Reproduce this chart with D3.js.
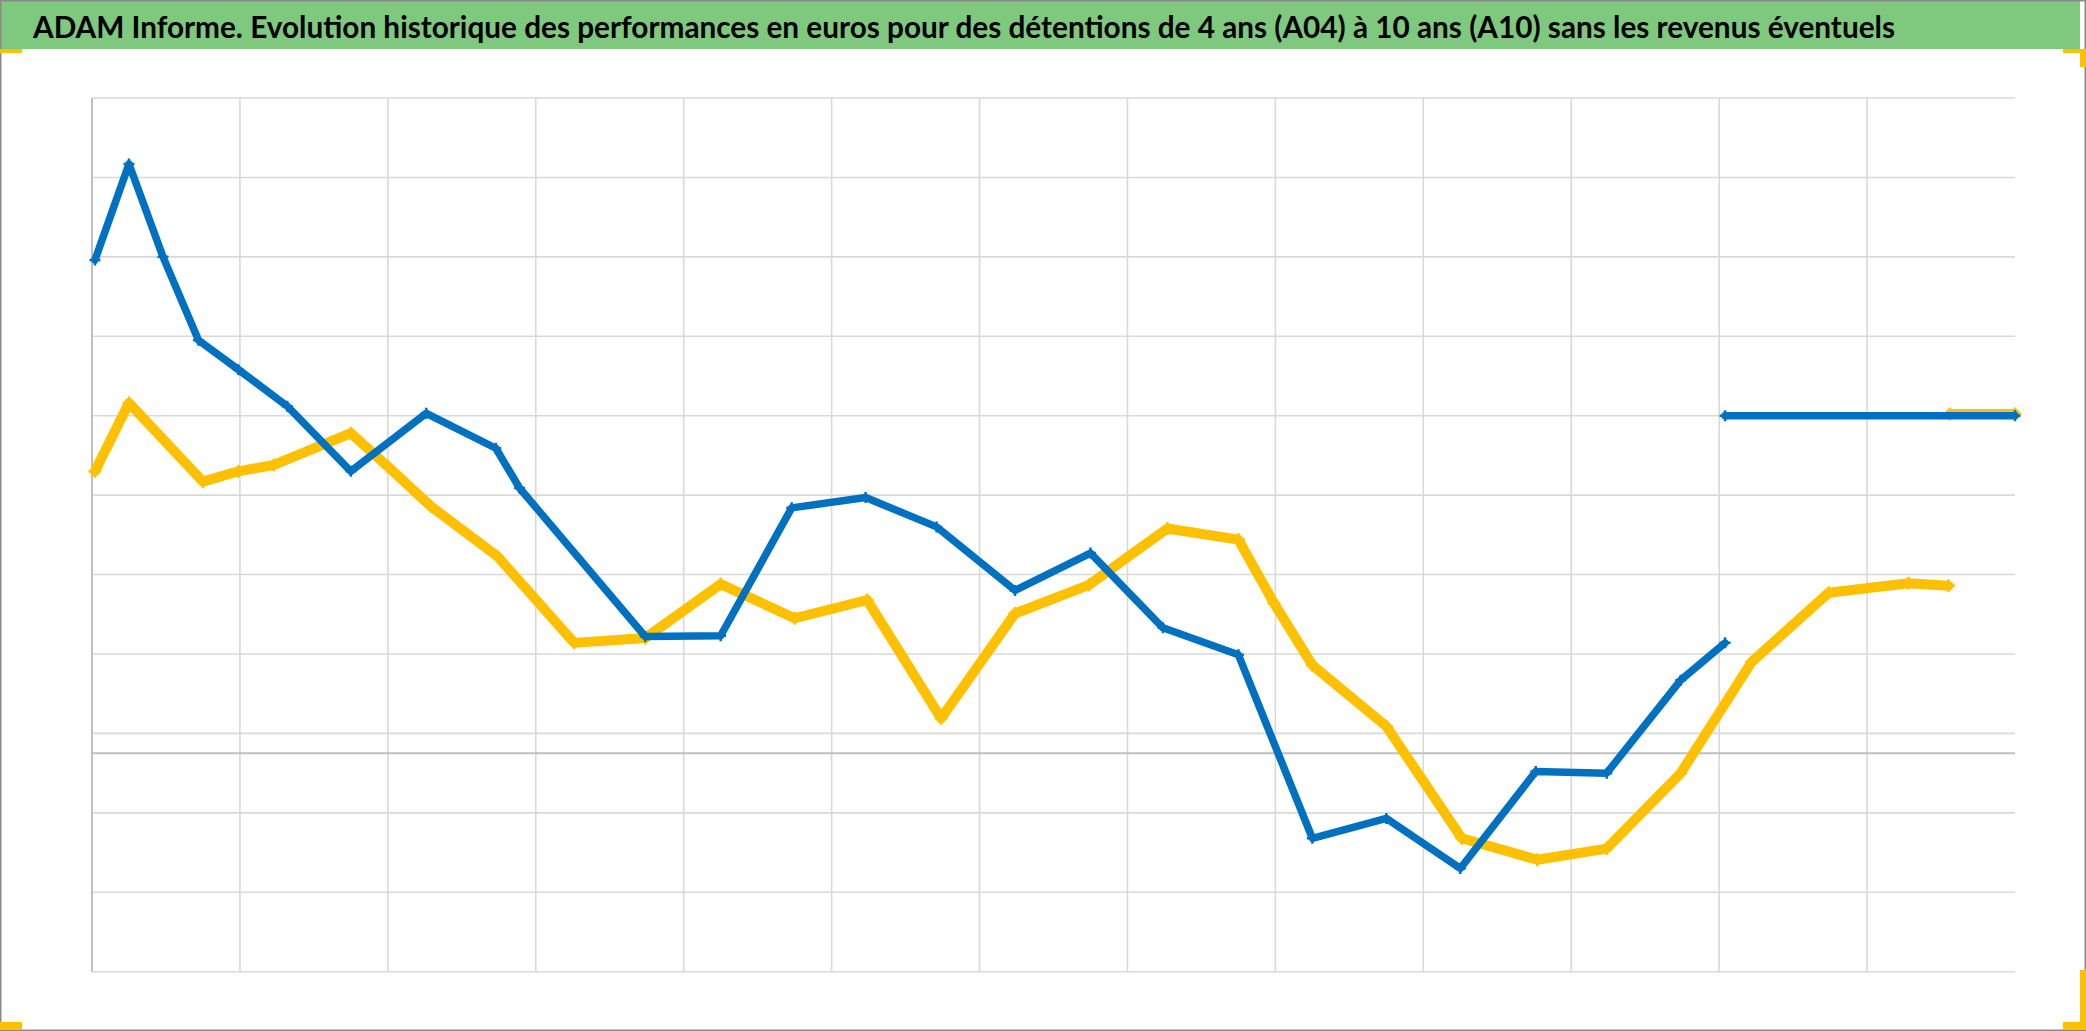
<!DOCTYPE html>
<html><head><meta charset="utf-8">
<script src="https://cdn.jsdelivr.net/npm/d3@7"></script>
<style>html,body{margin:0;padding:0;background:#fff;overflow:hidden}</style>
</head><body><svg id="c" width="2086" height="1031"></svg>
<script>
// ---- data ----
const titleText = "ADAM Informe. Evolution historique des performances en euros pour des détentions de 4 ans (A04) à 10 ans (A10) sans les revenus éventuels";
// A10 (blue)
const a10X = [0.02, 0.25, 0.48, 0.72, 0.99, 1.32, 1.75, 2.26, 2.73, 2.89, 3.74, 4.25, 4.73, 5.23, 5.71, 6.24, 6.75, 7.24, 7.75, 8.25, 8.75, 9.25, 9.76, 10.24, 10.74, 11.04];
const a10Y = [62.1, 74.2, 62.5, 52.0, 48.3, 43.7, 35.5, 42.8, 38.4, 33.4, 14.7, 14.8, 30.9, 32.2, 28.5, 20.5, 25.2, 15.8, 12.4, -10.7, -8.2, -14.5, -2.3, -2.5, 9.2, 13.9];
// A04 (yellow)
const a04X = [0.02, 0.25, 0.75, 0.99, 1.23, 1.75, 2.00, 2.29, 2.74, 3.26, 3.74, 4.25, 4.75, 5.24, 5.74, 6.24, 6.74, 7.27, 7.75, 7.99, 8.25, 8.75, 9.26, 9.77, 10.24, 10.74, 11.22, 11.74, 12.28, 12.55];
const a04Y = [35.5, 44.1, 34.2, 35.5, 36.3, 40.3, 36.1, 31.1, 24.8, 13.9, 14.5, 21.3, 17.0, 19.3, 4.4, 17.6, 21.2, 28.3, 26.9, 18.9, 11.1, 3.4, -10.7, -13.4, -12.0, -2.5, 11.5, 20.2, 21.4, 21.1];
// constant levels at the end
const a10FlatX = [11.04, 13.0];
const a10FlatY = [42.5, 42.5];
const a04FlatX = [12.56, 13.0];
const a04FlatY = [42.7, 42.7];
// axes
const xDomain = [0, 13];
const yDomain = [-27.5, 82.5];
const xGridValues = [1, 2, 3, 4, 5, 6, 7, 8, 9, 10, 11, 12];
const yGridValues = [-27.5, -17.5, -7.5, 2.5, 12.5, 22.5, 32.5, 42.5, 52.5, 62.5, 72.5, 82.5];
const axisCross = 0;

// ---- drawing ----
const W = 2086, H = 1031;
const svg = d3.select("#c");
const plot = {left: 92, right: 2015, top: 98, bottom: 971.7};
const x = d3.scaleLinear().domain(xDomain).range([plot.left, plot.right]);
const y = d3.scaleLinear().domain(yDomain).range([plot.bottom, plot.top]);

svg.append("rect").attr("width", W).attr("height", H).attr("fill", "#fff");
// title band
svg.append("rect").attr("x", 0).attr("y", 0).attr("width", 2080).attr("height", 49).attr("fill", "#7ec97e");
svg.append("text").attr("x", 33).attr("y", 38)
  .attr("font-family", "Lato, 'Liberation Sans Narrow', 'Open Sans', sans-serif")
  .attr("font-weight", "bold").attr("font-size", 31)
  .attr("textLength", 1862).attr("lengthAdjust", "spacingAndGlyphs")
  .attr("fill", "#000").text(titleText);

// gridlines
const g = svg.append("g");
g.append("g").selectAll("line").data(xGridValues).join("line")
  .attr("x1", d => x(d)).attr("x2", d => x(d))
  .attr("y1", y(yDomain[1])).attr("y2", y(yDomain[0]))
  .attr("stroke", "#d9d9d9").attr("stroke-width", 1.6);
g.append("g").selectAll("line").data(yGridValues).join("line")
  .attr("x1", x(xDomain[0])).attr("x2", x(xDomain[1]))
  .attr("y1", d => y(d)).attr("y2", d => y(d))
  .attr("stroke", "#d9d9d9").attr("stroke-width", 1.6);
// axes lines
g.append("line").attr("x1", x(xDomain[0])).attr("x2", x(xDomain[1]))
  .attr("y1", y(axisCross)).attr("y2", y(axisCross))
  .attr("stroke", "#bfbfbf").attr("stroke-width", 2);
g.append("line").attr("x1", x(xDomain[0])).attr("x2", x(xDomain[0]))
  .attr("y1", y(yDomain[1])).attr("y2", y(yDomain[0]))
  .attr("stroke", "#bfbfbf").attr("stroke-width", 2);

const line = d3.line().x(d => x(d[0])).y(d => y(d[1]));
const cross = s => `M${-s},0H${s}M0,${-s}V${s}`;

function series(xs, ys, color, width, msize, mstroke) {
  const pts = xs.map((v, i) => [v, ys[i]]);
  const gg = svg.append("g");
  gg.append("path").datum(pts).attr("d", line)
    .attr("fill", "none").attr("stroke", color).attr("stroke-width", width)
    .attr("stroke-linejoin", "round").attr("stroke-linecap", "round");
  gg.selectAll("path.m").data(pts).join("path").attr("class", "m")
    .attr("transform", d => `translate(${x(d[0])},${y(d[1])})`)
    .attr("d", cross(msize)).attr("stroke", color).attr("stroke-width", mstroke).attr("fill", "none");
}
series(a04X, a04Y, "#ffc000", 10, 6.5, 2.5);
series(a04FlatX, a04FlatY, "#ffc000", 10, 6.5, 2.5);
series(a10X, a10Y, "#0070c0", 7.5, 5.5, 2.5);
series(a10FlatX, a10FlatY, "#0070c0", 7.5, 5.5, 2.5);

// chart border
svg.append("rect").attr("x", 0.75).attr("y", 0.75).attr("width", W - 1.5).attr("height", H - 1.5)
  .attr("fill", "none").attr("stroke", "#8a8a8a").attr("stroke-width", 1.5);
// selection handles
const hc = "#ffc000";
[[0, 49, 22, 4], [2063, 49, 23, 4], [2080, 49, 6, 18], [0, 1022, 22, 8], [2063, 1022, 23, 8], [2080, 970, 6, 60]]
  .forEach(r => svg.append("rect").attr("x", r[0]).attr("y", r[1]).attr("width", r[2]).attr("height", r[3]).attr("fill", hc));
</script></body></html>
